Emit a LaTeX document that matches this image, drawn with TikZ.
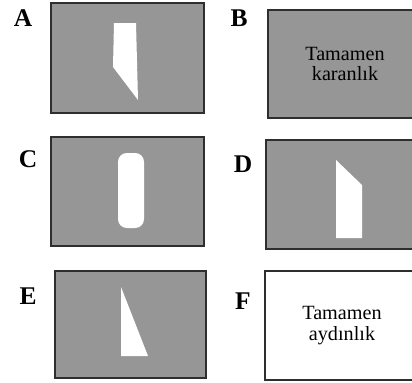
\documentclass[tikz,border=0pt]{standalone}
\usepackage{fontspec}
\setmainfont{Liberation Serif}
\usepackage{tikz}

\definecolor{panelgray}{HTML}{969696}
\definecolor{edgegray}{HTML}{2E2E2E}

\begin{document}
\begin{tikzpicture}[
        x=0.02cm, y=-0.02cm,
        panel/.style={rectangle, draw=edgegray, line width=1.1pt, fill=panelgray, inner sep=0pt, outer sep=0pt, align=center, font=\fontsize{11.5}{11.5}\selectfont},
        lightpanel/.style={panel, fill=white},
        letter/.style={font=\fontsize{14.5}{16}\selectfont\bfseries, inner sep=0pt},
        spot/.style={fill=white, draw=none}
    ]
        \useasboundingbox (0,0) rectangle (412,382);

        \node[panel, minimum width=3.06cm, minimum height=2.2cm] (boxA) at (127.5,58) {};
        \node[panel, minimum width=3.08cm, minimum height=2.16cm] (boxB) at (345,64) {Tamamen\\karanlık};
        \node[panel, minimum width=3.06cm, minimum height=2.18cm] (boxC) at (127.5,191.5) {};
        \node[panel, minimum width=3.08cm, minimum height=2.18cm] (boxD) at (343,194.5) {};
        \node[panel, minimum width=3.02cm, minimum height=2.14cm] (boxE) at (130.5,324.5) {};
        \node[lightpanel, minimum width=3.08cm, minimum height=2.18cm] (boxF) at (342,325.5) {Tamamen\\aydınlık};

        \node[letter] (labA) at (23,18) {A};
        \node[letter] (labB) at (239,18) {B};
        \node[letter] (labC) at (28,159) {C};
        \node[letter] (labD) at (243,164) {D};
        \node[letter] (labE) at (28,296) {E};
        \node[letter] (labF) at (243,301) {F};

        % light spots
        \fill[spot] (114,23) -- (136,23) -- (138,100) -- (113,67) -- cycle;
        \fill[spot, rounded corners=5] (118,153) rectangle (144,228);
        \fill[spot] (336,160) -- (362,185) -- (362,238) -- (336,238) -- cycle;
        \fill[spot] (121,287) -- (148,356) -- (121,356) -- cycle;
    \end{tikzpicture}
\end{document}
